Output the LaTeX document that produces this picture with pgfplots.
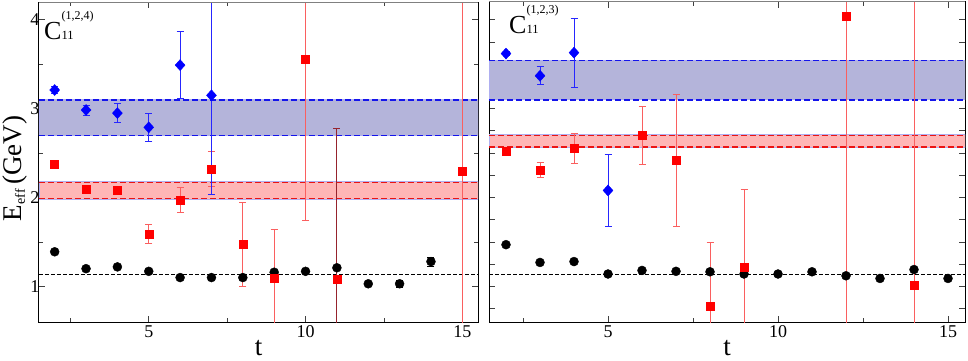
\documentclass[border=0pt]{standalone}
\usepackage{fontspec}
\setmainfont{Liberation Serif}
\usepackage{pgfplots}
\pgfplotsset{compat=1.18}
\definecolor{bandblue}{RGB}{180,180,218}
\definecolor{bandred}{RGB}{255,182,182}
\definecolor{bandedge}{RGB}{175,175,240}
\definecolor{barred}{RGB}{250,95,95}
\definecolor{darkbar}{RGB}{150,35,45}
\definecolor{dblue}{RGB}{20,20,235}
\definecolor{dred}{RGB}{235,20,20}

\pgfplotsset{
  panel/.style={
    scale only axis, height=320pt,
    xmin=1.5, xmax=15.5, ymin=0.6, ymax=4.2,
    xtick={5,10,15}, minor xtick={2.5,7.5,12.5},
    tick align=inside, major tick length=6pt, minor tick length=4pt,
    every tick/.style={black!75, line width=0.8pt},
    axis line style={line width=1pt, black},
    tick label style={font=\fontsize{18}{18}\selectfont},
    /pgf/number format/assume math mode=true,
    xlabel={t},
    every axis x label/.style={at={(axis description cs:0.5,-0.105)}, anchor=base, font=\fontsize{27}{27}\selectfont},
    clip=true,
  },
  circ/.style={only marks, mark=*, mark size=4.5pt, black, mark options={fill=black, draw=black},
    error bars/.cd, y dir=both, y explicit, error bar style={black, line width=0.7pt},
    error mark options={rotate=90, mark size=3.5pt, black, line width=0.7pt}},
  sq/.style={only marks, mark=square*, mark size=4pt, red, mark options={fill=red, draw=red},
    error bars/.cd, y dir=both, y explicit, error bar style={#1, line width=0.8pt},
    error mark options={rotate=90, mark size=3.5pt, #1, line width=0.8pt}},
  sq/.default=barred,
  dia/.style={only marks, mark=diamond*, mark size=5.5pt, blue, mark options={fill=blue, draw=blue, xscale=1.2},
    error bars/.cd, y dir=both, y explicit, error bar style={blue!85, line width=0.8pt},
    error mark options={rotate=90, mark size=3.5pt, blue!85, line width=0.8pt}},
  band/.style={fill=#1, draw=bandedge, line width=0.6pt, forget plot},
  dline/.style={#1, line width=1.5pt, dash pattern=on 6pt off 3pt, forget plot},
  kline/.style={black, line width=1pt, dash pattern=on 4pt off 2pt, forget plot},
}

\newcommand{\clab}[1]{{\fontsize{26}{26}\selectfont C}\rlap{\raisebox{20pt}{\fontsize{12}{12}\selectfont(#1)}}{\fontsize{12.5}{12.5}\selectfont 11}}

\begin{document}
\begin{tikzpicture}
\path[use as bounding box] (-39pt,-38pt) rectangle (929pt,322pt);

% ---------------- left panel ----------------
\begin{axis}[panel, width=439pt,
  ytick={1,2,3,4}, minor ytick={1.5,2.5,3.5},
  yticklabel style={xshift=4pt},
  ylabel={E\raisebox{-3pt}{\fontsize{14}{14}\selectfont eff}\,(GeV)},
  every axis y label/.style={at={(axis description cs:-0.039,0.48)}, rotate=90, anchor=base, font=\fontsize{27}{27}\selectfont},
]
\addplot[band=bandblue] coordinates {(1.5,2.70) (15.5,2.70) (15.5,3.10) (1.5,3.10) (1.5,2.70)};
\addplot[dline=dblue] coordinates {(1.5,2.70) (15.5,2.70)};
\addplot[dline=dblue] coordinates {(1.5,3.10) (15.5,3.10)};
\addplot[band=bandred] coordinates {(1.5,1.98) (15.5,1.98) (15.5,2.18) (1.5,2.18) (1.5,1.98)};
\addplot[dline=dred] coordinates {(1.5,1.99) (15.5,1.99)};
\addplot[dline=dred] coordinates {(1.5,2.17) (15.5,2.17)};
\addplot[kline] coordinates {(1.5,1.135) (15.5,1.135)};

\addplot[circ] table[x=t, y=E, y error=e, row sep=\\] {
t E e \\
2 1.39 0.01 \\
3 1.20 0.01 \\
4 1.22 0.01 \\
5 1.17 0.01 \\
6 1.10 0.01 \\
7 1.10 0.01 \\
8 1.10 0.01 \\
9 1.16 0.01 \\
10 1.17 0.01 \\
11 1.21 0.01 \\
12 1.03 0.02 \\
13 1.03 0.04 \\
14 1.28 0.05 \\
};
\addplot[sq] table[x=t, y=E, y error=e, row sep=\\] {
t E e \\
2 2.37 0.02 \\
3 2.09 0.02 \\
4 2.08 0.02 \\
5 1.59 0.11 \\
6 1.97 0.14 \\
7 2.32 0.20 \\
8 1.47 0.47 \\
9 1.09 0.55 \\
10 3.56 1.82 \\
15 2.30 2.50 \\
};
\addplot[sq=darkbar] table[x=t, y=E, y error=e, row sep=\\] {
t E e \\
11 1.08 1.70 \\
};
\addplot[dia] table[x=t, y=E, y error=e, row sep=\\] {
t E e \\
2 3.21 0.04 \\
3 2.985 0.056 \\
4 2.95 0.11 \\
5 2.79 0.157 \\
6 3.49 0.38 \\
7 3.15 1.11 \\
};
\node[anchor=base west, inner sep=0pt] at (rel axis cs:0.0114,0.884) {\clab{1,2,4}};
\draw[black!50, line width=1pt] (rel axis cs:0,1) -- (rel axis cs:1,1);
\end{axis}

% ---------------- right panel ----------------
\begin{axis}[panel, at={(450pt,0pt)}, width=476pt,
  ytick={0.75,1,1.25,1.5,1.75,2,2.25,2.5,2.75,3,3.25,3.5,3.75,4},
  yticklabels={},
]
\addplot[band=bandblue] coordinates {(1.5,3.10) (15.5,3.10) (15.5,3.54) (1.5,3.54) (1.5,3.10)};
\addplot[dline=dblue] coordinates {(1.5,3.10) (15.5,3.10)};
\addplot[dline=dblue] coordinates {(1.5,3.54) (15.5,3.54)};
\addplot[band=bandred] coordinates {(1.5,2.56) (15.5,2.56) (15.5,2.71) (1.5,2.71) (1.5,2.56)};
\addplot[dline=dred] coordinates {(1.5,2.57) (15.5,2.57)};
\addplot[dline=dred] coordinates {(1.5,2.70) (15.5,2.70)};
\addplot[kline] coordinates {(1.5,1.13) (15.5,1.13)};

\addplot[circ] table[x=t, y=E, y error=e, row sep=\\] {
t E e \\
2 1.47 0.01 \\
3 1.27 0.01 \\
4 1.28 0.01 \\
5 1.14 0.01 \\
6 1.18 0.01 \\
7 1.17 0.01 \\
8 1.165 0.01 \\
9 1.14 0.01 \\
10 1.14 0.01 \\
11 1.165 0.01 \\
12 1.12 0.01 \\
13 1.09 0.01 \\
14 1.19 0.01 \\
15 1.09 0.01 \\
};
\addplot[sq] table[x=t, y=E, y error=e, row sep=\\] {
t E e \\
2 2.52 0.02 \\
3 2.31 0.085 \\
4 2.55 0.17 \\
6 2.70 0.33 \\
7 2.42 0.74 \\
8 0.775 0.72 \\
9 1.22 0.87 \\
12 4.04 4.00 \\
14 1.01 3.50 \\
};
\addplot[dia] table[x=t, y=E, y error=e, row sep=\\] {
t E e \\
2 3.62 0.02 \\
3 3.37 0.10 \\
4 3.63 0.39 \\
5 2.08 0.41 \\
};
\node[anchor=base west, inner sep=0pt] at (rel axis cs:0.042,0.902) {\clab{1,2,3}};
\draw[black!50, line width=1pt] (rel axis cs:0,1) -- (rel axis cs:1,1);
\end{axis}
\end{tikzpicture}
\end{document}
